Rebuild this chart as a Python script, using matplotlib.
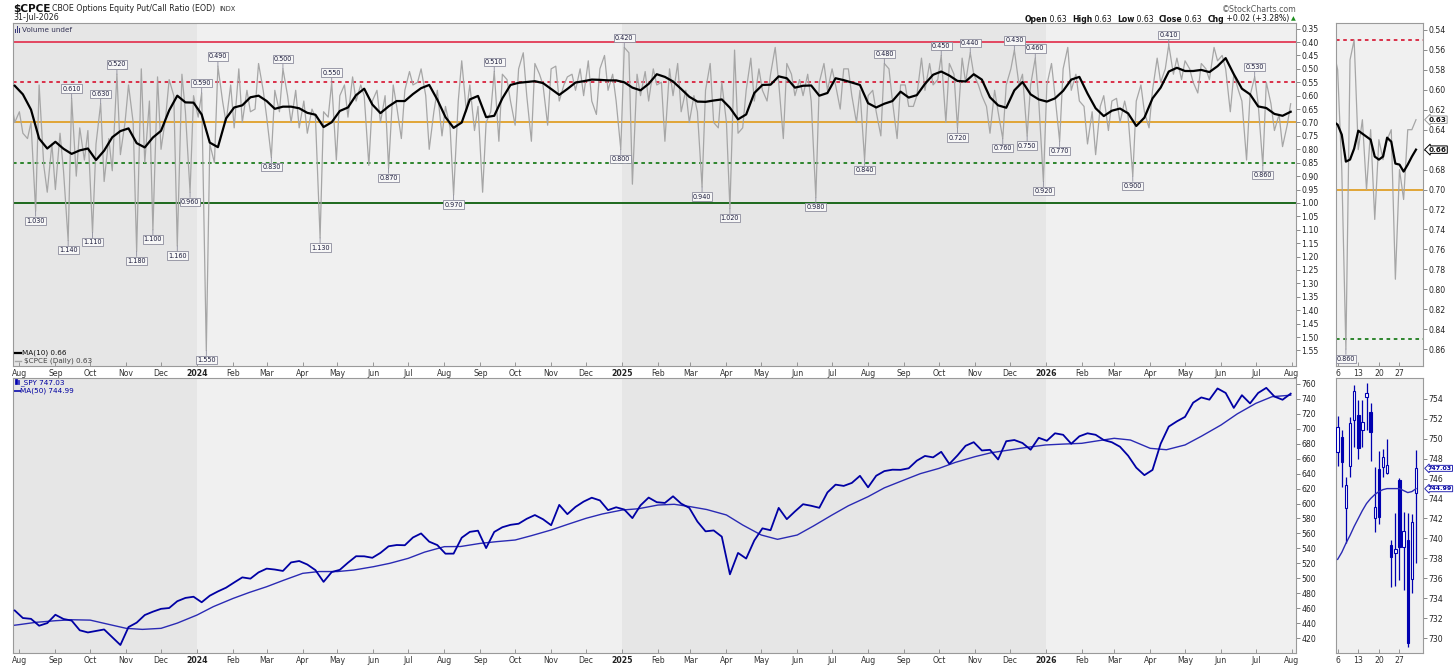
import numpy as np
import pandas as pd
import matplotlib
matplotlib.use("Agg")
import matplotlib.pyplot as plt
from matplotlib.patches import Rectangle
from matplotlib.lines import Line2D

plt.rcParams['font.family'] = ['DejaVu Sans']

# ---------------- data ----------------
# $CPCE, two readings a week (Tue, Fri); weeks end 2023-07-28 ... 2026-07-31
cpce = [
    0.62, 0.70, 0.66, 0.74, 0.76, 0.70, 1.03, 0.56, 0.86, 0.96,
    0.78, 0.95, 0.74, 0.88, 1.14, 0.61, 0.90, 0.72, 0.84, 0.73,
    1.11, 0.78, 0.63, 0.92, 0.76, 0.88, 0.52, 0.82, 0.70, 0.56,
    0.70, 1.18, 0.50, 0.85, 0.62, 1.10, 0.53, 0.80, 0.68, 0.54,
    0.60, 1.16, 0.52, 0.66, 0.96, 0.60, 0.68, 0.59, 1.55, 0.78,
    0.85, 0.49, 0.62, 0.70, 0.56, 0.72, 0.50, 0.70, 0.58, 0.66,
    0.65, 0.48, 0.58, 0.68, 0.83, 0.58, 0.66, 0.50, 0.60, 0.70,
    0.58, 0.72, 0.62, 0.74, 0.65, 0.68, 1.13, 0.66, 0.68, 0.55,
    0.84, 0.60, 0.56, 0.68, 0.53, 0.62, 0.56, 0.60, 0.86, 0.62,
    0.58, 0.70, 0.60, 0.87, 0.56, 0.64, 0.76, 0.58, 0.51, 0.56,
    0.55, 0.50, 0.60, 0.80, 0.66, 0.58, 0.75, 0.64, 0.72, 0.97,
    0.62, 0.47, 0.66, 0.56, 0.73, 0.64, 0.96, 0.70, 0.66, 0.51,
    0.77, 0.52, 0.54, 0.62, 0.71, 0.50, 0.44, 0.60, 0.77, 0.48,
    0.52, 0.56, 0.71, 0.50, 0.49, 0.62, 0.56, 0.53, 0.52, 0.58,
    0.50, 0.60, 0.47, 0.62, 0.67, 0.50, 0.45, 0.58, 0.52, 0.62,
    0.80, 0.42, 0.44, 0.93, 0.52, 0.60, 0.51, 0.62, 0.50, 0.56,
    0.55, 0.77, 0.50, 0.60, 0.48, 0.66, 0.58, 0.70, 0.60, 0.66,
    0.94, 0.58, 0.48, 0.70, 0.72, 0.55, 0.70, 1.02, 0.43, 0.74,
    0.72, 0.58, 0.46, 0.62, 0.50, 0.58, 0.62, 0.52, 0.42, 0.55,
    0.76, 0.48, 0.52, 0.60, 0.54, 0.60, 0.52, 0.62, 0.98, 0.55,
    0.48, 0.58, 0.50, 0.56, 0.65, 0.50, 0.50, 0.60, 0.70, 0.58,
    0.84, 0.60, 0.58, 0.66, 0.75, 0.48, 0.50, 0.62, 0.76, 0.56,
    0.56, 0.64, 0.64, 0.60, 0.46, 0.58, 0.48, 0.56, 0.54, 0.45,
    0.70, 0.48, 0.52, 0.72, 0.46, 0.55, 0.44, 0.52, 0.56, 0.60,
    0.64, 0.74, 0.58, 0.66, 0.76, 0.56, 0.50, 0.43, 0.56, 0.52,
    0.75, 0.56, 0.46, 0.62, 0.92, 0.56, 0.48, 0.60, 0.77, 0.50,
    0.42, 0.58, 0.52, 0.62, 0.64, 0.78, 0.66, 0.82, 0.64, 0.60,
    0.73, 0.62, 0.61, 0.70, 0.62, 0.68, 0.90, 0.62, 0.56, 0.66,
    0.72, 0.58, 0.46, 0.55, 0.50, 0.41, 0.52, 0.46, 0.54, 0.47,
    0.50, 0.55, 0.59, 0.48, 0.50, 0.54, 0.42, 0.47, 0.45, 0.50,
    0.66, 0.52, 0.58, 0.62, 0.84, 0.60, 0.53, 0.63, 0.86, 0.55,
    0.63, 0.73, 0.67, 0.79, 0.71, 0.63,
]

# MA(10), one reading per week (Fri)
ma10 = [
    0.563, 0.595, 0.652, 0.760, 0.797, 0.772, 0.798, 0.817, 0.804, 0.797,
    0.840, 0.805, 0.755, 0.732, 0.722, 0.777, 0.793, 0.756, 0.731, 0.655,
    0.600, 0.625, 0.626, 0.670, 0.775, 0.792, 0.685, 0.644, 0.636, 0.606,
    0.600, 0.620, 0.649, 0.641, 0.641, 0.647, 0.664, 0.671, 0.717, 0.699,
    0.657, 0.644, 0.598, 0.574, 0.633, 0.665, 0.640, 0.620, 0.620, 0.594,
    0.572, 0.560, 0.615, 0.680, 0.720, 0.700, 0.614, 0.601, 0.680, 0.675,
    0.610, 0.560, 0.552, 0.549, 0.546, 0.553, 0.575, 0.597, 0.575, 0.551,
    0.546, 0.540, 0.541, 0.543, 0.543, 0.550, 0.570, 0.580, 0.556, 0.520,
    0.530, 0.547, 0.575, 0.604, 0.622, 0.623, 0.618, 0.614, 0.645, 0.688,
    0.670, 0.590, 0.560, 0.559, 0.528, 0.535, 0.570, 0.563, 0.562, 0.600,
    0.590, 0.535, 0.542, 0.551, 0.560, 0.628, 0.644, 0.630, 0.620, 0.585,
    0.607, 0.598, 0.556, 0.522, 0.510, 0.525, 0.545, 0.547, 0.520, 0.540,
    0.606, 0.636, 0.645, 0.580, 0.549, 0.595, 0.614, 0.622, 0.610, 0.582,
    0.540, 0.530, 0.592, 0.647, 0.676, 0.656, 0.648, 0.666, 0.713, 0.682,
    0.610, 0.570, 0.510, 0.496, 0.508, 0.508, 0.504, 0.512, 0.490, 0.460,
    0.520, 0.574, 0.595, 0.640, 0.646, 0.668, 0.675, 0.660,
]

# SPY weekly close (Fri)
spy = [
    456.9, 446.8, 445.7, 436.5, 440.0, 451.2, 445.5, 443.4, 430.4, 427.5,
    429.5, 431.5, 421.2, 410.7, 434.7, 440.6, 450.8, 455.3, 459.1, 460.2,
    469.3, 473.7, 475.3, 467.9, 476.7, 482.4, 487.4, 494.4, 501.2, 499.5,
    507.9, 512.9, 511.7, 509.8, 521.2, 523.1, 518.4, 510.9, 495.2, 508.3,
    511.3, 520.8, 529.5, 529.4, 527.4, 534.0, 542.8, 544.5, 544.2, 554.6,
    560.0, 549.0, 544.4, 532.9, 533.0, 554.3, 562.1, 563.7, 540.4, 562.0,
    568.3, 571.5, 573.0, 579.6, 584.6, 579.0, 571.0, 598.2, 585.8, 595.5,
    602.6, 607.8, 604.2, 591.2, 595.0, 592.0, 580.5, 597.6, 608.0, 601.8,
    600.8, 609.7, 599.9, 594.2, 575.9, 562.8, 564.0, 555.7, 505.3, 533.9,
    526.4, 550.6, 566.8, 564.3, 594.2, 579.1, 589.4, 599.1, 597.0, 594.3,
    614.9, 625.3, 623.6, 627.6, 637.1, 621.7, 637.2, 643.4, 645.3, 645.1,
    647.2, 657.4, 663.7, 661.8, 669.2, 653.0, 664.4, 677.3, 682.1, 671.0,
    671.9, 659.0, 683.4, 685.0, 681.0, 672.0, 688.0, 684.0, 694.0, 692.0,
    680.0, 690.0, 694.0, 692.0, 685.0, 682.0, 676.0, 664.0, 648.0, 638.0,
    645.0, 680.0, 703.0, 710.0, 716.0, 735.0, 742.0, 739.0, 754.0, 748.0,
    728.0, 745.0, 734.0, 748.0, 754.8, 743.2, 738.9, 747.03,
]

# MA(50) of SPY: first day, then 1st and 15th of each month, then last day
ma50 = [
    437.0,
    438.0, 441.0, 443.2, 444.5, 444.0, 439.0, 433.0, 431.6, 433.0, 440.0,
    450.8, 462.0, 473.0, 481.0, 488.7, 497.0, 506.6, 509.0, 509.0, 511.0,
    515.5, 520.0, 526.7, 535.0, 542.3, 542.5, 546.7, 549.0, 551.2, 557.0,
    564.6, 572.0, 580.2, 586.0, 591.3, 593.0, 598.0, 599.0, 595.8, 592.0,
    584.7, 571.3, 557.9, 552.1, 557.9, 570.0, 584.7, 597.0, 609.2, 621.0,
    631.5, 640.0, 647.0, 655.0, 662.7, 668.0, 671.7, 675.0, 678.4, 679.5,
    680.6, 684.0, 687.3, 685.0, 673.9, 672.0, 678.4, 690.0, 705.1, 720.0,
    734.1, 743.0,
    744.99,
]

# labelled extremes of $CPCE
mark_dates = ['2023-08-15', '2023-09-12', '2023-09-15', '2023-10-03', '2023-10-10',
              '2023-10-24', '2023-11-10', '2023-11-24', '2023-12-15', '2023-12-26',
              '2024-01-05', '2024-01-09', '2024-01-19', '2024-03-05', '2024-03-15',
              '2024-04-16', '2024-04-26', '2024-06-14', '2024-08-09', '2024-09-13',
              '2024-12-31', '2025-01-03', '2025-03-11', '2025-04-04', '2025-06-17',
              '2025-07-29', '2025-08-15', '2025-10-03', '2025-10-17', '2025-10-28',
              '2025-11-25', '2025-12-05', '2025-12-16', '2025-12-23', '2025-12-30',
              '2026-01-13', '2026-03-17', '2026-04-17', '2026-06-30', '2026-07-07']

# July 2026 daily detail (right-hand panels)
jul_days = [1, 2, 6, 7, 8, 9, 10, 13, 14, 15, 16, 17, 20, 21, 22, 23, 24, 27, 28, 29, 30, 31]
jul_cpce = [0.60, 0.56, 0.58, 0.68, 0.86, 0.57, 0.55, 0.66, 0.63, 0.70, 0.64,
            0.73, 0.65, 0.67, 0.65, 0.64, 0.79, 0.68, 0.71, 0.64, 0.64, 0.63]
jul_ma10 = [0.630, 0.632, 0.635, 0.645, 0.672, 0.670, 0.659, 0.641, 0.644, 0.647, 0.650,
            0.667, 0.670, 0.667, 0.648, 0.652, 0.674, 0.675, 0.682, 0.675, 0.667, 0.660]

candle_days = [6, 7, 8, 9, 10, 13, 14, 15, 16, 17, 20, 21, 22, 23, 24, 27, 28, 29, 30, 31]
spy_open = [748.71, 750.15, 743.06, 747.27, 751.89, 752.36, 750.89, 754.17, 752.66, 742.05,
            746.94, 747.21, 746.54, 739.31, 738.50, 745.87, 739.17, 739.84, 735.96, 744.53]
spy_high = [752.29, 750.89, 746.14, 752.23, 755.41, 753.90, 753.90, 755.57, 753.57, 747.14,
            748.81, 748.95, 749.95, 739.84, 742.59, 746.03, 742.69, 742.52, 742.45, 748.88]
spy_low = [747.27, 745.20, 739.51, 746.20, 749.21, 747.94, 749.20, 750.89, 747.81, 740.68,
           741.45, 746.20, 746.50, 735.09, 735.23, 735.83, 734.82, 729.13, 734.49, 737.57]
spy_close = [751.16, 747.67, 745.33, 751.56, 754.84, 749.08, 751.72, 754.64, 750.69, 743.19,
             742.12, 748.14, 747.34, 738.17, 738.91, 739.11, 740.78, 729.47, 741.65, 747.03]
jul_ma50 = [737.9, 738.6, 739.5, 740.3, 741.2, 742.0, 742.8, 743.5, 744.0, 744.4,
            744.7, 744.9, 745.0, 745.0, 745.0, 745.0, 744.8, 744.6, 744.7, 744.99]

# ---------------- dates ----------------
fri = pd.date_range('2023-07-28', periods=len(ma10), freq='7D')
tue = fri - pd.Timedelta(days=3)
cpce_dates = pd.DatetimeIndex(np.column_stack([tue.values, fri.values]).ravel())
ma50_dates = pd.DatetimeIndex([pd.Timestamp('2023-07-27')]
                              + list(pd.date_range('2023-08-01', '2026-07-15', freq='SMS'))
                              + [pd.Timestamp('2026-07-31')])
x0_date, x1_date = pd.Timestamp('2023-07-26 12:00'), pd.Timestamp('2026-08-04 14:00')
months = pd.date_range('2023-08-01', '2026-08-01', freq='MS')
month_labels = [str(d.year) if d.month == 1 else d.strftime('%b') for d in months]

jx = np.arange(len(jul_days)) - jul_days.index(6)
cx = np.arange(len(candle_days)) - candle_days.index(6)

# ---------------- figure ----------------
W, H = 1456, 666
fig = plt.figure(figsize=(W / 100, H / 100), dpi=100)
fig.patch.set_facecolor('white')


def px_axes(x0, y0, x1, y1):
    return fig.add_axes([x0 / W, 1 - y1 / H, (x1 - x0) / W, (y1 - y0) / H])


def fx(x):
    return x / W


def fy(y):
    return 1 - y / H


ax1 = px_axes(13, 23, 1296, 366)
ax2 = px_axes(13, 378, 1296, 653)
ax3 = px_axes(1336, 23, 1423, 366)
ax4 = px_axes(1336, 378, 1423, 653)

for ax in (ax1, ax2, ax3, ax4):
    ax.set_facecolor('#f0f0f0')
    for s in ax.spines.values():
        s.set_color('#9a9a9a')
        s.set_linewidth(0.8)
    ax.yaxis.tick_right()
    ax.tick_params(axis='y', direction='out', length=3, width=0.6, color='#777777',
                   pad=1, labelsize=5.6, labelcolor='#222222')
    ax.tick_params(axis='x', direction='in', length=3, width=0.6, color='#888888',
                   pad=2.5, labelsize=5.6, labelcolor='#333333')

for ax in (ax1, ax2):
    ax.axvspan(x0_date, pd.Timestamp('2024-01-01'), color='#e6e6e6', lw=0, zorder=0)
    ax.axvspan(pd.Timestamp('2025-01-01'), pd.Timestamp('2026-01-01'), color='#e6e6e6', lw=0, zorder=0)
    ax.set_xlim(x0_date, x1_date)
    ax.set_xticks(months)
    ax.set_xticklabels(month_labels)
    for t, d in zip(ax.get_xticklabels(), months):
        if d.month == 1:
            t.set_fontweight('bold')
            t.set_color('#222222')

# reference lines
def ref_lines(ax, levels):
    styles = {0.40: ('#e23a55', '-'), 0.55: ('#d8213c', (0, (2, 2))),
              0.70: ('#e0a028', '-'), 0.85: ('#1e7d1e', (0, (2, 2))),
              1.00: ('#0c5e0c', '-')}
    for lv in levels:
        c, ls = styles[lv]
        ax.axhline(lv, color=c, ls=ls, lw=1.3, zorder=1)


# ---- top main panel ----
ref_lines(ax1, [0.40, 0.55, 0.70, 0.85, 1.00])
ax1.plot(cpce_dates, cpce, color='#a6a6a6', lw=0.9, zorder=2)
ax1.plot(fri, ma10, color='black', lw=1.6, zorder=3)
ax1.set_ylim(1.608, 0.329)
yt = np.round(np.arange(0.35, 1.551, 0.05), 2)
ax1.set_yticks(yt)
ax1.set_yticklabels([f'{v:.2f}' for v in yt])

vals = np.asarray(cpce)
for ds in mark_dates:
    i = int(np.argmin(np.abs((cpce_dates - pd.Timestamp(ds)).days)))
    nb = [vals[j] for j in (i - 1, i + 1) if 0 <= j < len(vals)]
    up = vals[i] < min(nb)   # lowest ratio -> peak on the inverted scale
    ax1.annotate(f'{vals[i]:.3f}', xy=(cpce_dates[i], vals[i]),
                 xytext=(0, 7 if up else -7), textcoords='offset points',
                 ha='center', va='center', fontsize=4.7, color='#1c1c3c',
                 bbox=dict(boxstyle='square,pad=0.18', fc='#f7f7f7', ec='#8c8c9c', lw=0.6),
                 arrowprops=dict(arrowstyle='-', color='#8c8c9c', lw=0.6,
                                 shrinkA=0, shrinkB=0), zorder=5)

# ---- bottom main panel ----
ax2.plot(fri, spy, color='#0000a4', lw=1.3, zorder=3)
ax2.plot(ma50_dates, ma50, color='#2a2ab4', lw=1.0, zorder=2)
ax2.set_ylim(400, 768)
ax2.set_yticks(np.arange(420, 761, 20))

# ---- top mini panel ----
ref_lines(ax3, [0.55, 0.70, 0.85])
ax3.plot(jx, jul_cpce, color='#a6a6a6', lw=0.9, zorder=2)
ax3.plot(jx, jul_ma10, color='black', lw=1.6, zorder=3)
ax3.set_ylim(0.877, 0.533)
yt3 = np.round(np.arange(0.54, 0.861, 0.02), 2)
ax3.set_yticks(yt3)
ax3.set_yticklabels(['' if abs(v - jul_ma10[-1]) < 1e-6 else f'{v:.2f}' for v in yt3])
im = int(np.argmax(jul_cpce))
ax3.annotate(f'{jul_cpce[im]:.3f}', xy=(jx[im], jul_cpce[im]), xytext=(0, -7),
             textcoords='offset points', ha='center', va='center', fontsize=4.7,
             color='#1c1c3c',
             bbox=dict(boxstyle='square,pad=0.18', fc='#f7f7f7', ec='#8c8c9c', lw=0.6),
             arrowprops=dict(arrowstyle='-', color='#8c8c9c', lw=0.6, shrinkA=0, shrinkB=0))
for val, ec in ((jul_cpce[-1], '#999999'), (jul_ma10[-1], 'black')):
    ax3.annotate(f'{val:.2f}', xy=(1, val), xycoords=('axes fraction', 'data'),
                 xytext=(4, 0), textcoords='offset points', ha='left', va='center',
                 fontsize=5.2, fontweight='bold', color='#111111',
                 bbox=dict(boxstyle='larrow,pad=0.1', fc='white', ec=ec, lw=0.7))

# ---- bottom mini panel: candles ----
for xi, o, h, l, c in zip(cx, spy_open, spy_high, spy_low, spy_close):
    ax4.vlines(xi, l, h, color='#0000b0', lw=0.9, zorder=2)
    hollow = c >= o
    ax4.add_patch(Rectangle((xi - 0.3, min(o, c)), 0.6, abs(c - o),
                            fc='white' if hollow else '#0000b0', ec='#0000b0',
                            lw=0.8, zorder=3))
ax4.plot(cx, jul_ma50, color='#2a2ab4', lw=1.0, zorder=4)
ax4.set_ylim(728.5, 756.1)
ax4.set_yticks(np.arange(730, 755, 2))
for val in (spy_close[-1], jul_ma50[-1]):
    ax4.annotate(f'{val:.2f}', xy=(1, val), xycoords=('axes fraction', 'data'),
                 xytext=(3.5, 0), textcoords='offset points', ha='left', va='center',
                 fontsize=4.5, fontweight='bold', color='#0000a0',
                 bbox=dict(boxstyle='larrow,pad=0.08', fc='white', ec='#2a2ab4', lw=0.7))

for ax in (ax3, ax4):
    ax.set_xlim(-0.4, cx[-1] + 1.7)
    tick_days = [6, 13, 20, 27]
    ax.set_xticks([cx[candle_days.index(d)] for d in tick_days])
    ax.set_xticklabels([str(d) for d in tick_days])

# ---------------- header / legends ----------------
fig.text(fx(13), fy(8.5), r'\$CPCE', fontsize=7.6, fontweight='bold', va='center', color='#111111')
fig.text(fx(52), fy(8.5), 'CBOE Options Equity Put/Call Ratio (EOD)', fontsize=5.7,
         va='center', color='#222222')
fig.text(fx(219), fy(9), 'INDX', fontsize=4.8, va='center', color='#333333')
fig.text(fx(13), fy(18), '31-Jul-2026', fontsize=5.7, va='center', color='#222222')
fig.text(fx(1297), fy(9), '\u00a9StockCharts.com', fontsize=5.7, va='center', ha='right',
         color='#555555')

# quote line, laid out piece by piece
renderer = fig.canvas.get_renderer()
pieces = [('Open', 'bold'), (' 0.63  ', 'normal'), ('High', 'bold'), (' 0.63  ', 'normal'),
          ('Low', 'bold'), (' 0.63  ', 'normal'), ('Close', 'bold'), (' 0.63  ', 'normal'),
          ('Chg', 'bold'), (' +0.02 (+3.28%)', 'normal')]
texts = []
for s, wt in pieces:
    texts.append(fig.text(0, fy(19), s, fontsize=5.6, fontweight=wt, va='center',
                          color='#111111'))
widths = [t.get_window_extent(renderer).width for t in texts]
xpos = 1289 - sum(widths)
for t, w in zip(texts, widths):
    t.set_x(fx(xpos))
    xpos += w
fig.text(fx(1291), fy(19), '\u25b2', fontsize=4.5, va='center', color='#1e8c1e')

# "Volume undef" with a small bar icon
for bx, bh in ((15, 4), (17, 6), (19, 5)):
    fig.add_artist(Rectangle((fx(bx), fy(32.5)), 1.3 / W, bh / H, transform=fig.transFigure,
                             fc='#3a3a7a', ec='none'))
fig.text(fx(22), fy(29.5), 'Volume undef', fontsize=5.2, va='center', color='#333355')

# top panel legend
fig.add_artist(Line2D([fx(15), fx(21)], [fy(352.7)] * 2, color='black', lw=1.6,
                      transform=fig.transFigure))
fig.text(fx(22.5), fy(352.7), f'MA(10) {ma10[-1]:.2f}', fontsize=5.2, va='center', color='#111111')
fig.add_artist(Line2D([fx(15), fx(21)], [fy(361)] * 2, color='#a6a6a6', lw=1.0,
                      transform=fig.transFigure))
fig.text(fx(24.5), fy(361), r'\$CPCE (Daily) ' + f'{cpce[-1]:.2f}', fontsize=5.2,
         va='center', color='#444444')

# bottom panel legend
for bx, by, bh, filled in ((15, 384.5, 5, True), (17.5, 384, 4, False)):
    fig.add_artist(Rectangle((fx(bx), fy(by)), 1.8 / W, bh / H, transform=fig.transFigure,
                             fc='#0000b0' if filled else 'white', ec='#0000b0', lw=0.5))
fig.text(fx(20.5), fy(382.7), f'_SPY {spy[-1]:.2f}', fontsize=5.2, va='center', color='#0000a0')
fig.add_artist(Line2D([fx(15), fx(20)], [fy(391)] * 2, color='#2a2ab4', lw=1.4,
                      transform=fig.transFigure))
fig.text(fx(20.5), fy(391), f'MA(50) {ma50[-1]:.2f}', fontsize=5.2, va='center', color='#0000a0')

fig.savefig('out.png', dpi=100)
